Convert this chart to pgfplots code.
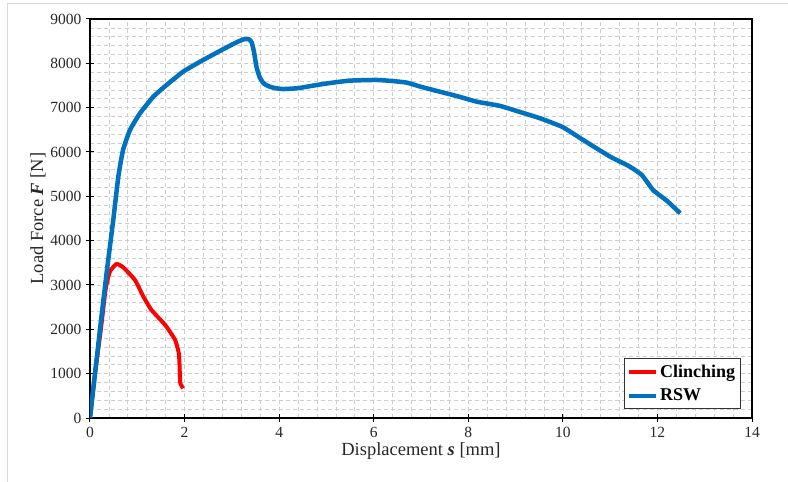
\documentclass[border=0pt]{standalone}
\usepackage{pgfplots}
\pgfplotsset{compat=1.18}
\usepackage{fontspec}
\setmainfont{Liberation Serif}
\definecolor{rswblue}{RGB}{0,112,192}
\definecolor{gridgray}{RGB}{205,205,205}

\pgfplotstableread{
s F
0 0
0.21 1985
0.35 3260
0.49 4450
0.60 5450
0.70 6050
0.846 6497
1.057 6873
1.34 7248
1.62 7512
1.97 7812
2.33 8038
2.68 8241
3.03 8437
3.24 8540
3.36 8545
3.42 8470
3.47 8250
3.52 7925
3.59 7680
3.68 7540
3.81 7470
3.95 7435
4.09 7420
4.40 7440
4.79 7510
5.10 7560
5.50 7610
6.06 7625
6.40 7600
6.70 7565
7.00 7470
7.40 7360
7.80 7250
8.18 7135
8.67 7040
9.10 6900
9.52 6760
10.00 6560
10.43 6270
11.00 5895
11.40 5680
11.67 5480
11.91 5140
12.20 4900
12.48 4620
}\rswdata

\pgfplotstableread{
s F
0 0
0.106 1000
0.23 2000
0.33 2900
0.42 3300
0.56 3474
0.70 3400
0.95 3113
1.13 2737
1.30 2436
1.59 2098
1.80 1760
1.88 1450
1.90 1000
1.91 783
1.97 670
}\clinchdata

\begin{document}
\begin{tikzpicture}
\begin{axis}[
  scale only axis,
  width=662bp, height=399bp,
  xmin=0, xmax=14, ymin=0, ymax=9000,
  xtick={0,2,...,14}, ytick={0,1000,...,9000},
  minor x tick num=4, minor y tick num=4,
  grid=both,
  major grid style={gridgray, dash pattern=on 4bp off 3bp, line width=0.7bp},
  minor grid style={gridgray, dash pattern=on 4bp off 3bp, line width=0.7bp},
  xtick pos=bottom, ytick pos=left,
  tick align=center,
  major tick length=8bp, minor tick length=0pt,
  tick style={black, line width=1bp},
  x axis line style={gray, line width=1.5bp},
  y axis line style={black, line width=1.2bp},
  /pgf/number format/assume math mode=true,
  /pgf/number format/set thousands separator={},
  scaled ticks=false,
  ticklabel style={font=\fontsize{15.5bp}{18bp}\selectfont, text=black!85},
  xticklabel style={yshift=-2bp},
  yticklabel style={xshift=-1bp},
  xlabel={Displacement \textbf{\textit{s}} [mm]},
  ylabel={Load Force \textbf{\textit{F}} [N]},
  label style={font=\fontsize{18.5bp}{22bp}\selectfont, text=black!85},
  xlabel style={yshift=2bp},
  ylabel style={yshift=-2bp},
  legend style={at={(0.983,0.023)}, anchor=south east, draw=black!80, line width=1.2bp,
    font=\fontsize{18bp}{21bp}\selectfont\bfseries, row sep=6bp, inner xsep=3bp, inner ysep=4bp},
  legend cell align=left,
  legend image code/.code={\draw[#1, line width=4bp] (0bp,0bp) -- (27bp,0bp);},
]
\addplot[red, line width=4bp, line join=round, smooth, tension=0.3] table[x=s, y=F] {\clinchdata};
\addlegendentry{Clinching}
\addplot[rswblue, line width=4.5bp, line join=round, smooth, tension=0.3] table[x=s, y=F] {\rswdata};
\addlegendentry{RSW}
\coordinate (SW) at (rel axis cs:0,0);
\coordinate (NE) at (rel axis cs:1,1);
\end{axis}
\coordinate (FL) at ([shift={(-82bp,-70bp)}]SW);
\coordinate (FT) at ([shift={(40bp,15bp)}]NE);
\draw[black!15, line width=1bp] (FL) -- (FL |- FT) -- (FT);
\pgfresetboundingbox
\path ([shift={(-90bp,-64bp)}]SW) rectangle ([shift={(36bp,19bp)}]NE);
\end{tikzpicture}
\end{document}
